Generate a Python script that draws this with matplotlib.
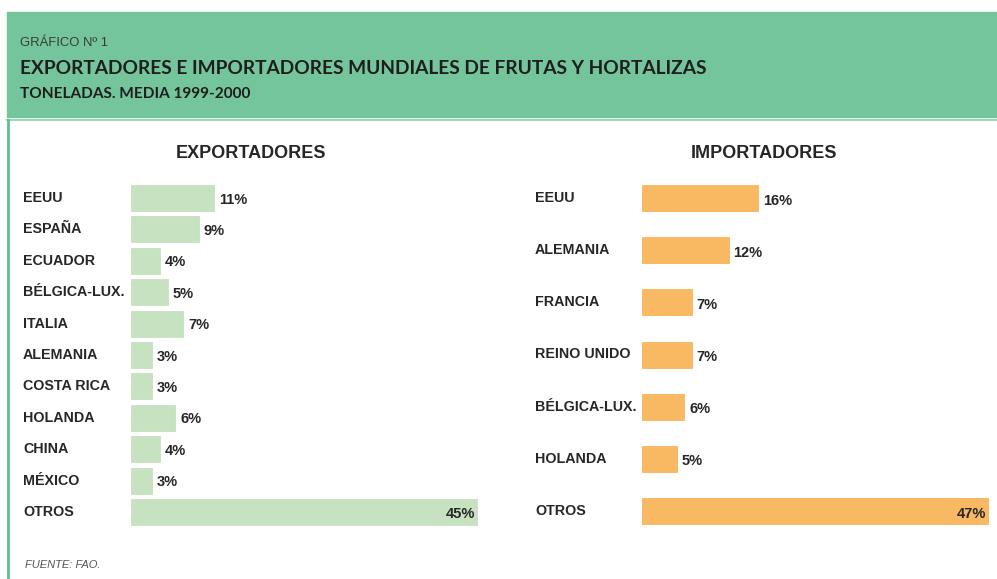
import matplotlib
matplotlib.use("Agg")
import matplotlib.pyplot as plt
import matplotlib.transforms as mtransforms
from matplotlib.patches import Rectangle
from matplotlib.lines import Line2D

# data (share of world total, %)
exp_countries = ['EEUU', 'ESPAÑA', 'ECUADOR', 'BÉLGICA-LUX.', 'ITALIA', 'ALEMANIA',
                 'COSTA RICA', 'HOLANDA', 'CHINA', 'MÉXICO', 'OTROS']
exp_values = [11, 9, 4, 5, 7, 3, 3, 6, 4, 3, 45]

imp_countries = ['EEUU', 'ALEMANIA', 'FRANCIA', 'REINO UNIDO', 'BÉLGICA-LUX.', 'HOLANDA', 'OTROS']
imp_values = [16, 12, 7, 7, 6, 5, 47]

W, H = 997, 579
plt.rcParams['font.family'] = ['Liberation Sans', 'DejaVu Sans']
txt_col = '#262626'
green_hdr = '#74c59c'
bar_green = '#c6e2c0'
bar_orange = '#f9b862'

fig = plt.figure(figsize=(W / 100, H / 100), dpi=100)
renderer = fig.canvas.get_renderer()


def px_box(x0, y0, x1, y1):
    # pixel box (top-left origin) -> figure fraction rect
    return [x0 / W, 1 - y1 / H, (x1 - x0) / W, (y1 - y0) / H]


def fit_width(t, target_px):
    # shrink/grow the font so the text spans target_px
    w = t.get_window_extent(renderer).width
    t.set_fontsize(t.get_fontsize() * target_px / w)


# header band
fig.patches.append(Rectangle((7 / W, 1 - 117 / H), (W - 7) / W, 105 / H,
                             transform=fig.transFigure, color=green_hdr, zorder=0))
fig.lines.append(Line2D([7 / W, 1], [1 - 120 / H, 1 - 120 / H], transform=fig.transFigure,
                        color='#9fd8b9', lw=1.5))
fig.lines.append(Line2D([8 / W, 8 / W], [1 - 120 / H, 0], transform=fig.transFigure,
                        color='#5cc08f', lw=2))

t0 = fig.text(20 / W, 1 - 43 / H, 'GRÁFICO Nº 1', fontsize=9.5, color='#3a3a3a',
              va='center', ha='left')
fit_width(t0, 88)
t1 = fig.text(20 / W, 1 - 68 / H, 'EXPORTADORES E IMPORTADORES MUNDIALES DE FRUTAS Y HORTALIZAS',
              fontsize=15, color='#1e1e1e', va='center', ha='left', fontweight='bold',
              family=['Lato', 'DejaVu Sans'])
fit_width(t1, 687)
t2 = fig.text(20 / W, 1 - 94.5 / H, 'TONELADAS. MEDIA 1999-2000', fontsize=11, color='#1e1e1e',
              va='center', ha='left', fontweight='bold', family=['Lato', 'DejaVu Sans'])
fit_width(t2, 230)

fig.text(251 / W, 1 - 153 / H, 'EXPORTADORES', fontsize=13, fontweight='bold',
         color=txt_col, ha='center', va='center')
fig.text(764 / W, 1 - 153 / H, 'IMPORTADORES', fontsize=13, fontweight='bold',
         color=txt_col, ha='center', va='center')

fig.text(25 / W, 1 - 565 / H, 'FUENTE: FAO.', fontsize=8, style='italic',
         color='#555555', ha='left', va='center')


def panel(rect, labels, values, color, xmax, bar_h, label_x, inside_last=True):
    ax = fig.add_axes(rect)
    n = len(labels)
    ys = list(range(n))
    ax.barh(ys, values, height=bar_h, color=color, edgecolor='white', linewidth=0.8)
    ax.set_xlim(0, xmax)
    ax.set_ylim(n - 0.5, -0.5)
    ax.axis('off')
    tr = mtransforms.blended_transform_factory(fig.transFigure, ax.transData)
    for y, lab, v in zip(ys, labels, values):
        ax.text(label_x / W, y, lab, transform=tr, fontsize=10.3, fontweight='bold',
                color=txt_col, ha='left', va='center')
        if inside_last and y == n - 1:
            ax.text(v - 0.4, y + 0.05, f'{v}%', fontsize=10.5, fontweight='bold',
                    color=txt_col, ha='right', va='center')
        else:
            ax.text(v + 0.5, y + 0.05, f'{v}%', fontsize=10.5, fontweight='bold',
                    color=txt_col, ha='left', va='center')
    return ax


# exporters: 11 rows, centres from y=198 to y=512 px
sp_e = (512 - 198) / 10
panel(px_box(130, 198 - sp_e / 2, 130 + 7.73 * 50, 512 + sp_e / 2),
      exp_countries, exp_values, bar_green, 50, 28 / sp_e, 23)

# importers: 7 rows, centres from y=198 to y=511 px
sp_i = (511 - 198) / 6
panel(px_box(641, 198 - sp_i / 2, 641 + 7.4 * 48, 511 + sp_i / 2),
      imp_countries, imp_values, bar_orange, 48, 28 / sp_i, 535)

fig.savefig('out.png', dpi=100, facecolor='white')
